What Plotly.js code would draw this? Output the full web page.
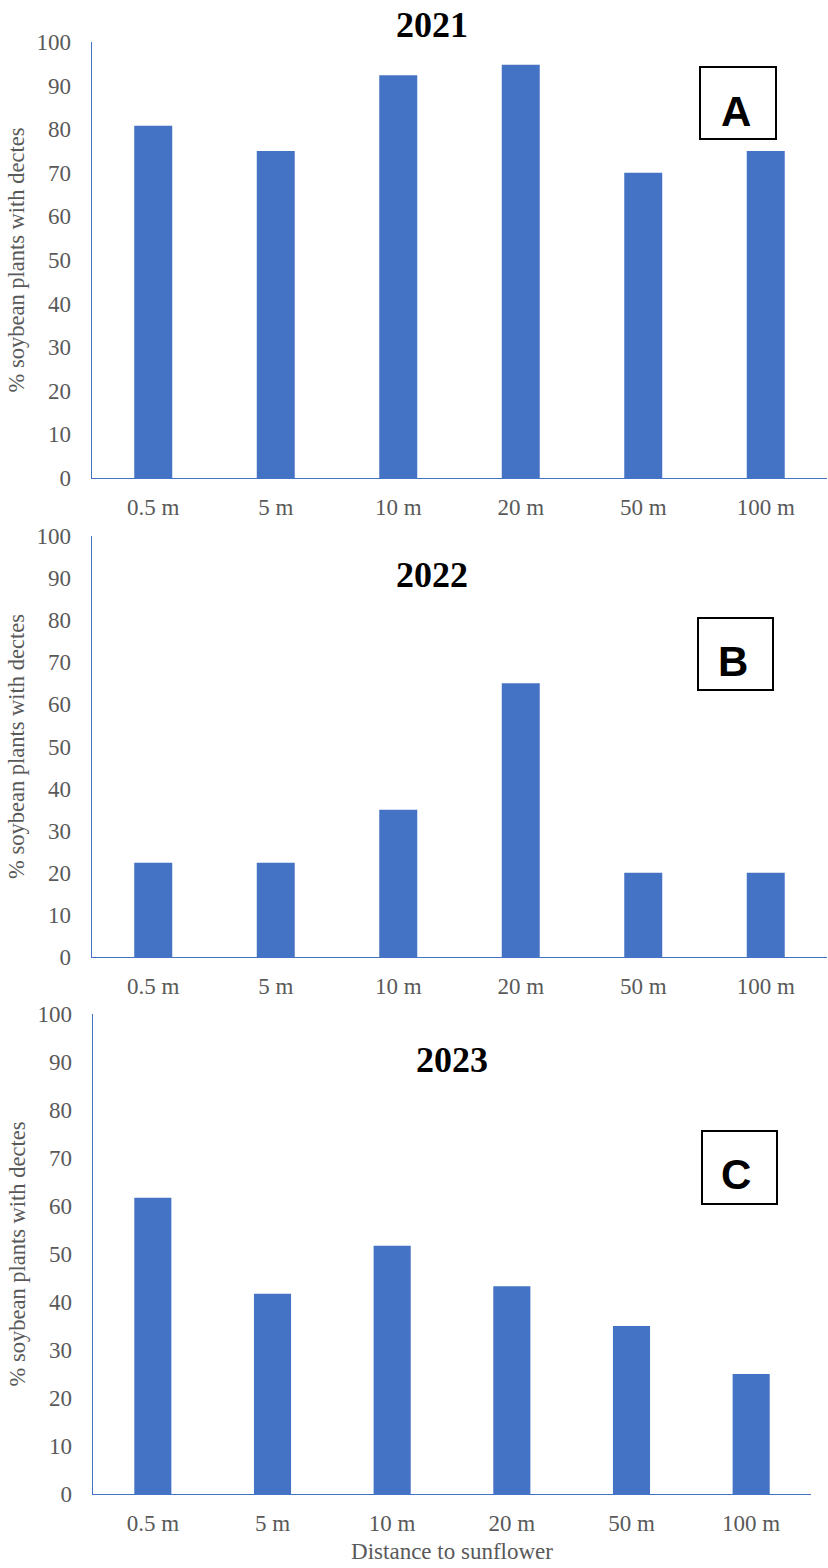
<!DOCTYPE html>
<html>
<head>
<meta charset="utf-8">
<script src="https://cdn.plot.ly/plotly-3.0.1.min.js"></script>
<style>html,body{margin:0;padding:0;background:#fff;}#chart{width:828px;height:1568px;}</style>
</head>
<body>
<div id="chart"></div>
<script>
const categories = ['0.5 m', '5 m', '10 m', '20 m', '50 m', '100 m'];
const values2021 = [80.8, 75, 92.4, 94.8, 70, 75];
const values2022 = [22.4, 22.4, 35, 65, 20, 20];
const values2023 = [61.7, 41.7, 51.7, 43.3, 35, 25];
const yTickVals = [0, 10, 20, 30, 40, 50, 60, 70, 80, 90, 100];
const yearTitles = ['2021', '2022', '2023'];
const panelLetters = ['A', 'B', 'C'];
const yTitle = '% soybean plants with dectes';
const xTitle = 'Distance to sunflower';

const W = 828, H = 1568;
const blue = '#4472C4';
const gray = '#595959';
const serif = 'Liberation Serif, Times New Roman, serif';

function px(x) { return x / W; }
function py(y) { return 1 - y / H; }

const series = [values2021, values2022, values2023];
const traces = series.map((v, i) => ({
  type: 'bar',
  x: categories,
  y: v,
  width: 0.31,
  marker: { color: blue, line: { width: 0 } },
  xaxis: 'x' + (i === 0 ? '' : i + 1),
  yaxis: 'y' + (i === 0 ? '' : i + 1),
  showlegend: false,
  hoverinfo: 'x+y'
}));

const xDomains = [[px(92), px(827)], [px(92), px(827)], [px(93), px(811)]];
const yDomains = [[py(478), py(42)], [py(957), py(536)], [py(1494), py(1014)]];

const layout = {
  width: W, height: H,
  margin: { l: 0, r: 0, t: 0, b: 0 },
  paper_bgcolor: '#fff', plot_bgcolor: 'rgba(0,0,0,0)',
  font: { family: serif, size: 22, color: gray },
  shapes: [], annotations: []
};

for (let i = 0; i < 3; i++) {
  const s = i === 0 ? '' : String(i + 1);
  layout['xaxis' + s] = {
    domain: xDomains[i], anchor: 'y' + s,
    type: 'category', showline: true, linecolor: blue, linewidth: 1.3,
    showgrid: false, zeroline: false, ticks: '', ticklabelstandoff: 8,
    tickfont: { family: serif, size: 23, color: gray }, fixedrange: true
  };
  layout['yaxis' + s] = {
    domain: yDomains[i], anchor: 'x' + s,
    range: [0, 100], tickvals: yTickVals, showline: true, linecolor: blue, linewidth: 1.3,
    showgrid: false, zeroline: false, ticks: '', ticklabelstandoff: 15,
    tickfont: { family: serif, size: 23, color: gray }, fixedrange: true,
    automargin: false,
    title: { text: yTitle, font: { family: serif, size: 22.5, color: gray }, standoff: 5 }
  };
}
layout.xaxis3.title = { text: xTitle, font: { family: serif, size: 23, color: gray }, standoff: 8 };
layout.xaxis3.automargin = false;

// Year titles
const titlePos = [[431.5, 25], [431.5, 575], [451.5, 1060]];
titlePos.forEach((p, i) => {
  layout.annotations.push({
    xref: 'paper', yref: 'paper', x: px(p[0]), y: py(p[1]),
    xanchor: 'center', yanchor: 'middle', showarrow: false,
    text: '<b>' + yearTitles[i] + '</b>',
    font: { family: serif, size: 36, color: '#000' }
  });
});

// Panel letter boxes
const boxes = [[700, 67, 776, 139], [698, 618, 773, 690], [702, 1131, 777, 1204]];
const letterPos = [[736, 111], [733, 661], [736, 1174]];
boxes.forEach((b, i) => {
  layout.shapes.push({
    type: 'rect', xref: 'paper', yref: 'paper',
    x0: px(b[0]), x1: px(b[2]), y0: py(b[3]), y1: py(b[1]),
    line: { color: '#000', width: 2 }, fillcolor: 'rgba(0,0,0,0)'
  });
  layout.annotations.push({
    xref: 'paper', yref: 'paper', x: px(letterPos[i][0]), y: py(letterPos[i][1]),
    xanchor: 'center', yanchor: 'middle', showarrow: false,
    text: '<b>' + panelLetters[i] + '</b>',
    font: { family: 'Liberation Sans, Arial, sans-serif', size: 42, color: '#000' }
  });
});

Plotly.newPlot('chart', traces, layout, { displayModeBar: false, staticPlot: true });
</script>
</body>
</html>
